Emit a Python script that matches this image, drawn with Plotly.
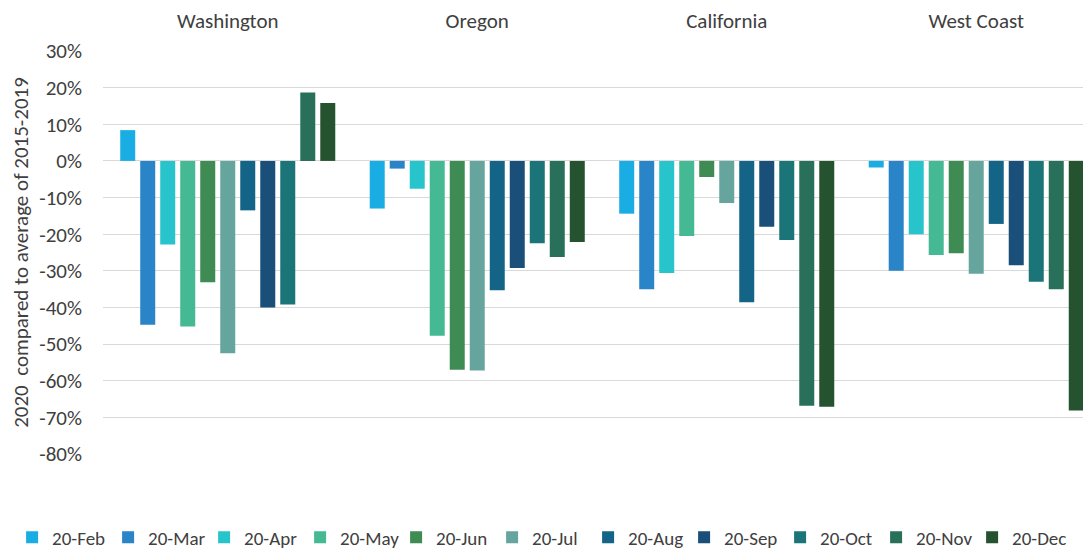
import plotly.graph_objects as go

# regions and months
regions = ["Washington", "Oregon", "California", "West Coast"]
months = ["20-Feb", "20-Mar", "20-Apr", "20-May", "20-Jun", "20-Jul",
          "20-Aug", "20-Sep", "20-Oct", "20-Nov", "20-Dec"]

# % change vs 2015-2019 average, per month: [WA, OR, CA, West Coast]
feb = [8.4, -13.0, -14.4, -1.8]
mar = [-44.7, -2.1, -35.0, -30.0]
apr = [-22.8, -7.6, -30.6, -20.0]
may = [-45.2, -47.7, -20.5, -25.7]
jun = [-33.1, -57.0, -4.4, -25.2]
jul = [-52.5, -57.2, -11.5, -30.8]
aug = [-13.5, -35.3, -38.6, -17.2]
sep = [-40.0, -29.2, -18.0, -28.5]
oct_ = [-39.2, -22.5, -21.6, -33.0]
nov = [18.7, -26.2, -66.8, -35.0]
dec = [15.8, -22.1, -67.1, -68.1]

values = [feb, mar, apr, may, jun, jul, aug, sep, oct_, nov, dec]

# y ticks (hyphen minus, like the original)
tick_vals = [30, 20, 10, 0, -10, -20, -30, -40, -50, -60, -70, -80]
tick_text = [f"{v}%" for v in tick_vals]

colors = ["#1AADE4", "#2A84C8", "#28C4CC", "#45B993", "#3E8C53", "#65A59D",
          "#136487", "#194F78", "#1A7478", "#28705A", "#25522F"]

fig = go.Figure()
for m, v, c in zip(months, values, colors):
    fig.add_trace(go.Bar(x=regions, y=v, name=m, marker_color=c,
                         marker_line_width=0))

font = "Carlito, Calibri, Lato, sans-serif"

# page body has an 8px margin, so the figure is 8px smaller than the window
fig.update_layout(
    width=1083, height=542,
    barmode="group", bargap=0.118, bargroupgap=0.25,
    plot_bgcolor="white", paper_bgcolor="white",
    margin=dict(l=95, r=0, t=43, b=96, autoexpand=False),
    font=dict(family=font, size=18, color="#404040"),
    legend=dict(orientation="h", xref="paper", x=-0.092, xanchor="left",
                yref="paper", y=-0.207, yanchor="middle",
                font=dict(size=19, color="#404040"), itemwidth=30,
                entrywidth=51, traceorder="normal"),
)
fig.update_xaxes(side="top", range=[-0.5, 3.46], showline=False,
                 ticks="", tickfont=dict(size=21), ticklabelstandoff=18,
                 automargin=False)
fig.update_yaxes(range=[-80, 30], tickvals=tick_vals, ticktext=tick_text,
                 showgrid=True, gridcolor="#D9D9D9", gridwidth=1,
                 zeroline=True, zerolinecolor="#D9D9D9", zerolinewidth=1,
                 tickfont=dict(size=21), ticklabelstandoff=20, automargin=False,
                 title=dict(text="2020  compared to average of 2015-2019",
                            font=dict(size=21), standoff=6))

fig.write_html("out.html")
